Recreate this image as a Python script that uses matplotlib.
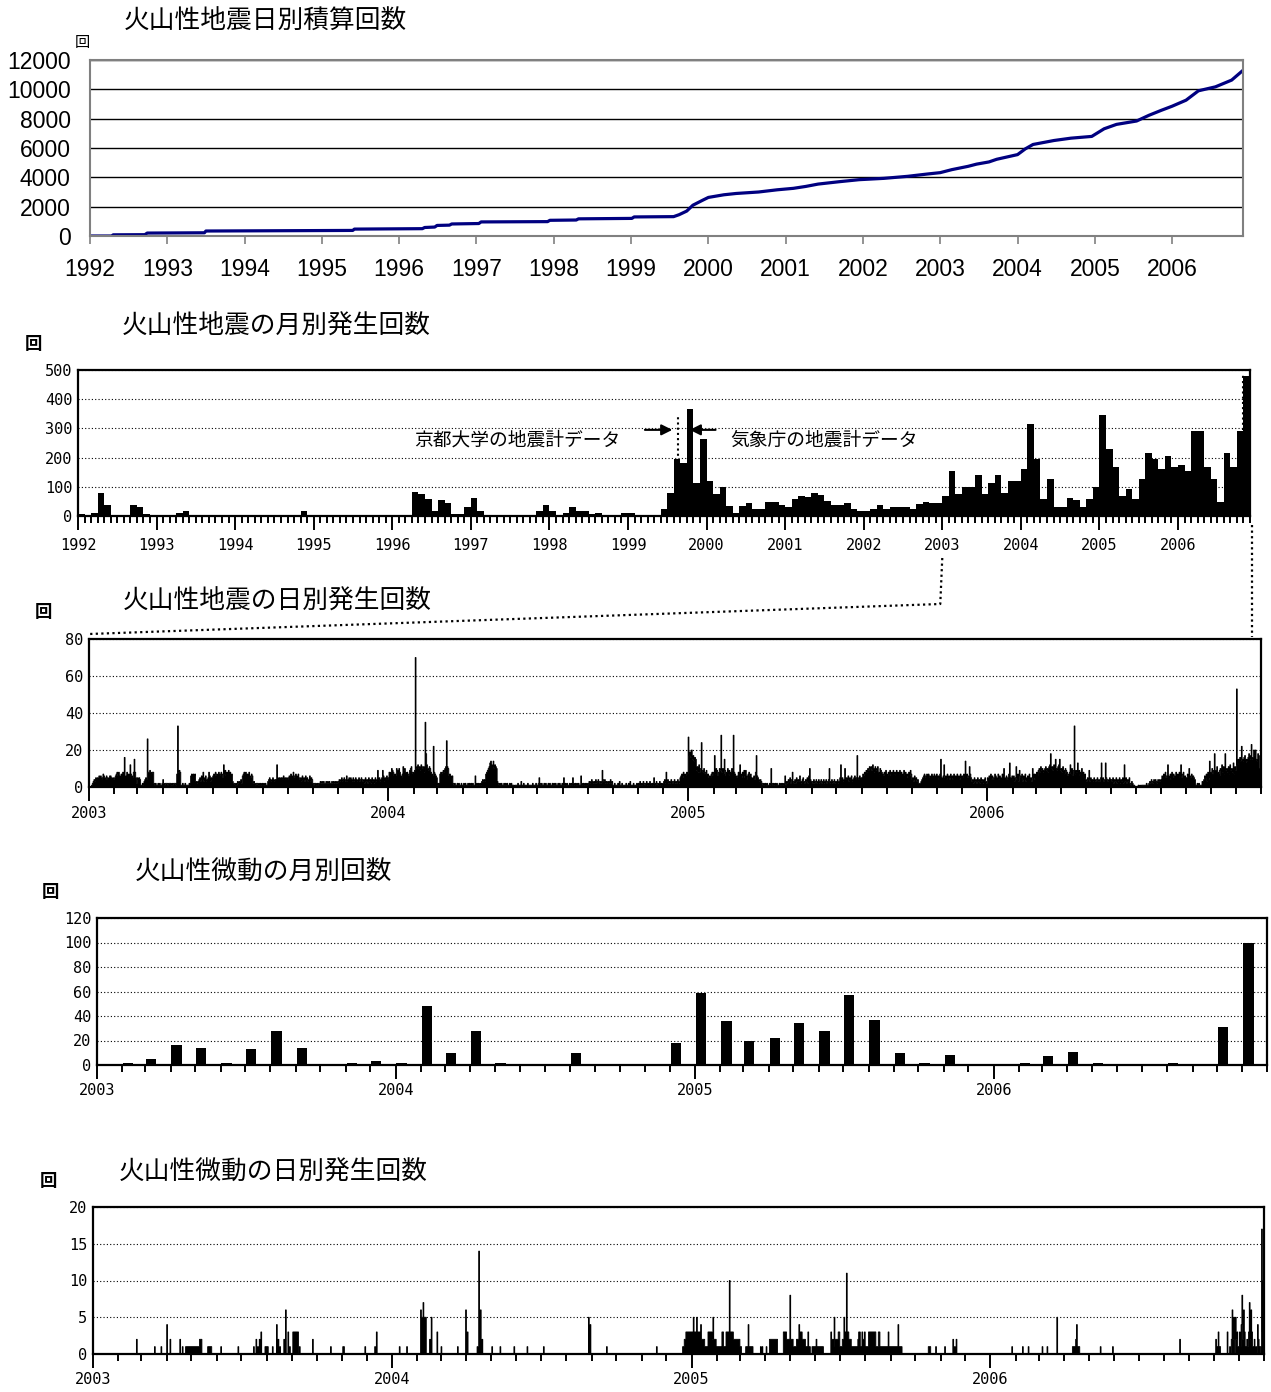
import numpy as np
import pandas as pd
import matplotlib
matplotlib.use('Agg')
import matplotlib.pyplot as plt
import matplotlib.dates as mdates
from matplotlib.lines import Line2D
from matplotlib.ticker import MultipleLocator

W, H = 1271, 1392
JP = 'Noto Sans CJK JP'
MONO = 'DejaVu Sans Mono'
plt.rcParams['font.family'] = ['Liberation Sans', JP]

# cumulative number of volcanic earthquakes (decimal year, count)
cum_year = [1992.00, 1992.28, 1992.30, 1992.71, 1992.74, 1993.48, 1993.50, 1995.40,
            1995.42, 1996.30, 1996.33, 1996.46, 1996.49, 1996.65, 1996.68, 1997.03,
            1997.06, 1997.92, 1997.95, 1998.29, 1998.32, 1999.01, 1999.04, 1999.55,
            1999.62, 1999.72, 1999.80, 1999.93, 2000.00, 2000.20, 2000.36, 2000.65,
            2000.89, 2001.10, 2001.26, 2001.42, 2001.69, 2001.95, 2002.27, 2002.58,
            2002.84, 2003.00, 2003.15, 2003.36, 2003.47, 2003.63, 2003.73, 2004.00,
            2004.10, 2004.20, 2004.47, 2004.69, 2004.96, 2005.12, 2005.28, 2005.54,
            2005.70, 2005.86, 2006.00, 2006.18, 2006.34, 2006.56, 2006.77, 2006.92]
cum_count = [0, 0, 80, 90, 200, 220, 340, 380,
             470, 500, 580, 610, 720, 740, 820, 850,
             960, 980, 1070, 1090, 1170, 1200, 1300, 1320,
             1450, 1700, 2100, 2450, 2630, 2810, 2900, 3000,
             3150, 3250, 3380, 3540, 3700, 3840, 3930, 4070,
             4230, 4320, 4525, 4750, 4900, 5050, 5230, 5550,
             5940, 6240, 6510, 6670, 6790, 7310, 7610, 7840,
             8230, 8570, 8850, 9260, 9900, 10170, 10630, 11310]

# monthly earthquake counts, Jan 1992 - Nov 2006
eq_monthly = [
    6, 0, 10, 80, 37, 0, 0, 0, 37, 30, 7, 0,             # 1992
    0, 0, 0, 11, 16, 0, 5, 0, 0, 0, 0, 0,                # 1993
    5, 5, 0, 0, 0, 5, 0, 0, 0, 0, 16, 0,                 # 1994
    0, 0, 0, 5, 5, 0, 0, 0, 0, 5, 5, 5,                  # 1995
    0, 0, 0, 82, 75, 57, 16, 55, 43, 7, 7, 30,           # 1996
    60, 16, 5, 0, 0, 0, 0, 5, 0, 0, 16, 37,              # 1997
    16, 5, 9, 30, 16, 16, 7, 11, 5, 5, 5, 9,             # 1998
    9, 2, 2, 2, 2, 23, 80, 195, 180, 368, 114, 262,      # 1999
    121, 75, 98, 34, 11, 34, 43, 23, 23, 49, 49, 39,     # 2000
    30, 57, 68, 64, 80, 71, 52, 38, 38, 43, 23, 18,      # 2001
    16, 23, 37, 23, 30, 30, 30, 23, 41, 49, 43, 43,      # 2002
    68, 153, 75, 98, 98, 139, 75, 114, 139, 80, 121, 121,     # 2003
    160, 315, 194, 57, 126, 30, 30, 62, 55, 30, 57, 100,      # 2004
    347, 230, 167, 68, 94, 57, 128, 217, 196, 160, 205, 169,  # 2005
    174, 153, 290, 290, 167, 126, 49, 217, 167, 290, 480,     # 2006
]

# daily earthquake counts, one string per month (Jan 2003 - Nov 2006),
# one base-36 digit per day
eq_daily_months = [
    '0001234354546564576546545665454', '567868657687g568676c7658f852',
    '545411213454q889878821211212112', '421222122212122217x89811211211',
    '1121676767332345364835634586354', '6768767867875c7968796867322121',
    '3233426787867686576232122121212', '12121134543454344c5454554645454',
    '565765865765754536453645346354', '2122121223232322323232232323232',
    '343453454363454543534543453454', '3425342534253425349453459635464',
    '5868a98676a97a8657b9a868769ab87', '890abcab9cbab8zica9ba876m8765',
    '120787898abpba67656212112121121', '121211212121211612121213434378',
    '9abdecbeacba3212121121212112121', '110111211131121111211111211121',
    '1252121121211212112121211212112', '1512121121215212121211621212121',
    '232343232423432329434232332423', '1121112131121111211213111211121',
    '213121321231213212152132123121', '2342834232432342324325675867687',
    'rhjgkfhegf9b8c8ao98a78967565786', '8h7a968a9s8a7f968a7968a9s876',
    '5686c7586959467867545648h654343', '21212121121a212121211212121261',
    '3243524832425343632453243526a43', '324234234234234234234a23423423',
    '34235c4534a45463546345645h54645', '5768798a9bab9ca8b9ab87a98678697',
    '687968597869587968579686758697', '4536453422234567657676567657667',
    '5647f546c564756475647564756475', '6576e6756b753425342534253424532',
    '54657465476547465476a546547d546', '4635b4739657364735647453a574',
    '7869a8b9a89ab9a8bciab9cbfa9bcf9', 'a8b97a98678c7a69x798d6978a6857',
    '4354935443543453435d4534d543454', '4352435243524352c3524352132110',
    '0001010111111211232432434324343', '46575865c657485765867586c578465',
    '576a657665411212111334657384e5', '8a79i69b879a6c8b7i9a8b7c9a8d7b9',
    '0cfdgemfeghdfegihfnfgkhkfeiha9',
]
eq_daily_peaks = {'2004-02-03': 70, '2006-11-01': 53}

# monthly volcanic tremor counts, Jan 2003 - Nov 2006
tremor_monthly = [
    0, 2, 5, 16, 14, 2, 13, 28, 14, 0, 2, 3,       # 2003
    2, 48, 10, 28, 2, 0, 0, 10, 0, 0, 0, 18,       # 2004
    59, 36, 20, 22, 34, 28, 57, 37, 10, 2, 8, 0,   # 2005
    0, 2, 7, 11, 2, 0, 0, 2, 0, 31, 100,           # 2006
]

# daily tremor counts: (first day, number of days, count per day)
tremor_daily = [
    ('2003-02-23', 1, 2), ('2003-03-17', 1, 1), ('2003-03-25', 1, 1),
    ('2003-04-01', 1, 4), ('2003-04-05', 1, 2), ('2003-04-17', 1, 2), ('2003-04-20', 1, 1),
    ('2003-04-24', 17, 1), ('2003-05-11', 3, 2), ('2003-05-21', 5, 1),
    ('2003-06-06', 1, 1), ('2003-06-27', 1, 1),
    ('2003-07-16', 1, 1), ('2003-07-19', 1, 2), ('2003-07-21', 1, 1), ('2003-07-23', 1, 2),
    ('2003-07-25', 1, 3), ('2003-07-30', 4, 1),
    ('2003-08-08', 1, 1), ('2003-08-13', 1, 4), ('2003-08-15', 1, 2), ('2003-08-17', 1, 1),
    ('2003-08-22', 1, 2), ('2003-08-24', 1, 6), ('2003-08-27', 1, 3), ('2003-08-29', 1, 1),
    ('2003-09-02', 7, 3), ('2003-09-10', 1, 1), ('2003-09-26', 1, 2),
    ('2003-10-18', 1, 1), ('2003-11-02', 2, 1), ('2003-11-29', 1, 1),
    ('2003-12-11', 1, 1), ('2003-12-13', 1, 3),
    ('2004-01-10', 1, 1), ('2004-01-19', 1, 1),
    ('2004-02-05', 1, 6), ('2004-02-06', 2, 5), ('2004-02-08', 1, 7), ('2004-02-09', 3, 5),
    ('2004-02-16', 1, 2), ('2004-02-18', 1, 5), ('2004-02-25', 1, 3), ('2004-03-01', 1, 1),
    ('2004-03-21', 1, 1), ('2004-03-31', 1, 6), ('2004-04-02', 1, 3),
    ('2004-04-14', 1, 1), ('2004-04-16', 1, 14), ('2004-04-18', 1, 6), ('2004-04-20', 1, 2),
    ('2004-05-02', 1, 1), ('2004-05-12', 1, 1), ('2004-05-29', 1, 1), ('2004-06-14', 1, 1),
    ('2004-07-04', 1, 1), ('2004-08-28', 1, 5), ('2004-08-30', 1, 4), ('2004-09-19', 1, 1),
    ('2004-11-19', 1, 1),
    ('2004-12-21', 2, 1), ('2004-12-23', 2, 2), ('2004-12-25', 9, 3),
    ('2005-01-03', 1, 5), ('2005-01-04', 3, 3), ('2005-01-07', 1, 5), ('2005-01-08', 4, 3),
    ('2005-01-12', 1, 4), ('2005-01-13', 4, 2), ('2005-01-17', 4, 1), ('2005-01-21', 5, 3),
    ('2005-01-26', 1, 2), ('2005-01-27', 1, 5), ('2005-01-28', 3, 2), ('2005-01-31', 7, 1),
    ('2005-02-07', 2, 3), ('2005-02-09', 3, 1), ('2005-02-12', 4, 3), ('2005-02-16', 1, 10),
    ('2005-02-17', 4, 3), ('2005-02-21', 8, 2), ('2005-03-01', 2, 1),
    ('2005-03-08', 3, 1), ('2005-03-11', 1, 4), ('2005-03-12', 5, 1),
    ('2005-03-26', 1, 1), ('2005-03-28', 1, 1), ('2005-04-02', 1, 1), ('2005-04-06', 10, 2),
    ('2005-04-23', 4, 3), ('2005-04-27', 4, 2), ('2005-05-01', 1, 8), ('2005-05-02', 3, 2),
    ('2005-05-06', 3, 1), ('2005-05-09', 3, 2), ('2005-05-12', 1, 4), ('2005-05-13', 3, 3),
    ('2005-05-16', 4, 2), ('2005-05-20', 3, 1), ('2005-05-23', 1, 3), ('2005-05-24', 2, 1),
    ('2005-05-28', 5, 1), ('2005-06-02', 1, 2), ('2005-06-03', 8, 1),
    ('2005-06-20', 1, 3), ('2005-06-21', 2, 2), ('2005-06-23', 1, 1), ('2005-06-24', 1, 5),
    ('2005-06-25', 4, 2), ('2005-06-29', 2, 3), ('2005-07-01', 3, 1),
    ('2005-07-04', 2, 2), ('2005-07-06', 1, 5), ('2005-07-07', 2, 3), ('2005-07-09', 1, 11),
    ('2005-07-10', 2, 3), ('2005-07-12', 3, 2), ('2005-07-15', 8, 1),
    ('2005-07-23', 1, 2), ('2005-07-24', 2, 3), ('2005-07-26', 2, 1), ('2005-07-28', 1, 3),
    ('2005-07-29', 2, 2), ('2005-07-31', 1, 3),
    ('2005-08-01', 4, 1), ('2005-08-05', 9, 3), ('2005-08-14', 3, 1), ('2005-08-17', 2, 3),
    ('2005-08-19', 10, 1), ('2005-08-29', 1, 3), ('2005-08-30', 3, 1),
    ('2005-09-02', 8, 1), ('2005-09-10', 1, 4), ('2005-09-11', 4, 1),
    ('2005-10-17', 2, 1), ('2005-10-19', 1, 1), ('2005-10-26', 1, 1), ('2005-11-06', 1, 1),
    ('2005-11-16', 1, 2), ('2005-11-18', 1, 1), ('2005-11-20', 1, 2),
    ('2006-01-27', 1, 1), ('2006-02-09', 1, 1), ('2006-02-16', 1, 1), ('2006-03-05', 1, 1),
    ('2006-03-11', 1, 1), ('2006-03-23', 1, 5),
    ('2006-04-11', 4, 1), ('2006-04-15', 1, 2), ('2006-04-16', 1, 4), ('2006-04-17', 3, 1),
    ('2006-05-15', 1, 1), ('2006-05-30', 1, 1), ('2006-08-20', 1, 2),
    ('2006-10-03', 1, 2), ('2006-10-04', 2, 1), ('2006-10-06', 1, 3), ('2006-10-07', 2, 1),
    ('2006-10-17', 1, 3), ('2006-10-20', 1, 1), ('2006-10-22', 1, 2), ('2006-10-23', 1, 6),
    ('2006-10-24', 1, 2), ('2006-10-25', 1, 5), ('2006-10-27', 1, 5), ('2006-10-28', 1, 2),
    ('2006-10-29', 1, 3), ('2006-10-30', 2, 1), ('2006-11-01', 1, 3), ('2006-11-02', 1, 1),
    ('2006-11-03', 1, 4), ('2006-11-04', 1, 8), ('2006-11-05', 1, 2), ('2006-11-06', 1, 6),
    ('2006-11-07', 1, 3), ('2006-11-08', 2, 1), ('2006-11-10', 1, 2), ('2006-11-11', 1, 1),
    ('2006-11-12', 1, 3), ('2006-11-13', 1, 7), ('2006-11-14', 1, 2), ('2006-11-15', 1, 6),
    ('2006-11-16', 1, 3), ('2006-11-17', 2, 1), ('2006-11-19', 1, 2), ('2006-11-21', 1, 1),
    ('2006-11-23', 1, 4), ('2006-11-24', 1, 2), ('2006-11-25', 2, 1), ('2006-11-28', 1, 17),
    ('2006-11-29', 1, 3), ('2006-11-30', 1, 10),
]

# ---- expand the daily series onto a full calendar ----
days = pd.date_range('2003-01-01', '2006-11-30', freq='D')
eq_daily = pd.Series(0, index=days)
for start, s in zip(pd.date_range('2003-01-01', periods=len(eq_daily_months), freq='MS'),
                    eq_daily_months):
    for i, c in enumerate(s):
        eq_daily[start + pd.Timedelta(days=i)] = int(c, 36)
for d, v in eq_daily_peaks.items():
    eq_daily[pd.Timestamp(d)] = v

tremor = pd.Series(0, index=days)
for d, n, v in tremor_daily:
    tremor[pd.date_range(d, periods=n, freq='D')] = v

day_edges = mdates.date2num(pd.date_range('2003-01-01', '2006-12-01', freq='D'))
x_lo, x_hi = day_edges[0], day_edges[-1]

fig = plt.figure(figsize=(W / 100, H / 100), dpi=100)


def box(l, t, r, b):
    return fig.add_axes([l / W, 1 - b / H, (r - l) / W, (b - t) / H])


def ftext(x, y, s, **kw):
    fig.text(x / W, 1 - y / H, s, **kw)


def dotted_grid(ax, pad=3):
    ax.grid(axis='y', color='black', linestyle=(0, (1, 2)), linewidth=0.8)
    ax.set_axisbelow(True)
    for sp in ax.spines.values():
        sp.set_color('black')
        sp.set_linewidth(1.6)
    ax.tick_params(axis='y', length=0, pad=4)
    ax.tick_params(axis='x', which='major', length=10, width=1.4, pad=pad)
    ax.tick_params(axis='x', which='minor', length=5, width=1.4)
    for lab in ax.get_xticklabels() + ax.get_yticklabels():
        lab.set_fontfamily(MONO)
        lab.set_fontsize(11)


def daily_axis(ax):
    ax.set_xlim(x_lo, x_hi)
    ax.xaxis.set_major_locator(mdates.YearLocator())
    ax.xaxis.set_major_formatter(mdates.DateFormatter('%Y'))
    ax.xaxis.set_minor_locator(mdates.MonthLocator())


TITLE = dict(fontsize=18.5, family=JP, va='center')
UNIT = dict(fontsize=12.5, family=JP, weight='bold', va='center', ha='center')

# ---- 1: cumulative earthquakes ----
ax1 = box(90, 60, 1243, 236)
ax1.plot(cum_year, cum_count, color='#000080', lw=2.3)
ax1.set_xlim(1992, 2006 + 11 / 12)
ax1.set_ylim(0, 12000)
ax1.set_yticks(range(0, 12001, 2000))
ax1.set_xticks(range(1992, 2007))
ax1.grid(axis='y', color='black', lw=1)
for sp in ax1.spines.values():
    sp.set_color('#808080')
    sp.set_linewidth(1.5)
ax1.tick_params(axis='y', length=0, pad=14, labelsize=16.5)
ax1.tick_params(axis='x', length=6, color='#808080', width=1.2, pad=10, labelsize=16.5)
ftext(124, 22, '火山性地震日別積算回数', **TITLE)
ftext(82, 43, '回', fontsize=11, family=JP, va='center', ha='center')

# ---- 2: monthly earthquakes ----
ax2 = box(78, 370, 1250, 516)
m_edges = 1992 + np.arange(len(eq_monthly) + 1) / 12
ax2.stairs(eq_monthly, m_edges, fill=True, color='black')
ax2.set_xlim(m_edges[0], m_edges[-1])
ax2.set_ylim(0, 500)
ax2.set_yticks(range(0, 501, 100))
ax2.set_xticks(range(1992, 2007))
ax2.xaxis.set_minor_locator(MultipleLocator(1 / 12))
dotted_grid(ax2, pad=6)
ax2.annotate('', xy=(1999.60, 295), xytext=(1999.18, 295),
             arrowprops=dict(arrowstyle='-|>', color='black', lw=1.5, mutation_scale=16))
ax2.annotate('', xy=(1999.75, 295), xytext=(2000.15, 295),
             arrowprops=dict(arrowstyle='-|>', color='black', lw=1.5, mutation_scale=16))
ax2.plot([1999.635, 1999.635], [190, 345], color='black', lw=1.5, linestyle=(0, (1, 1.5)))
ax2.plot([2006.83, 2006.83], [295, 490], color='black', lw=1.5, linestyle=(0, (1, 1.5)))
ax2.text(1997.59, 260, '京都大学の地震計データ', family=JP, fontsize=13.5, ha='center', va='center')
ax2.text(2000.30, 260, '気象庁の地震計データ', family=JP, fontsize=13.5, ha='left', va='center')
ftext(122, 327, '火山性地震の月別発生回数', **TITLE)
ftext(33, 344, '回', **UNIT)

# ---- 3: daily earthquakes ----
ax3 = box(89, 639, 1261, 787)
ax3.stairs(eq_daily.values, day_edges, fill=True, facecolor='black',
           edgecolor='black', linewidth=0.6)
daily_axis(ax3)
ax3.set_ylim(0, 80)
ax3.set_yticks(range(0, 81, 20))
dotted_grid(ax3, pad=4)
ftext(123, 602, '火山性地震の日別発生回数', **TITLE)
ftext(43, 612, '回', **UNIT)

# ---- 4: monthly tremor ----
ax4 = box(97, 918, 1267, 1065)
t_months = mdates.date2num(pd.date_range('2003-01-01', periods=len(tremor_monthly), freq='MS'))
ax4.bar(t_months + 1, tremor_monthly, width=12.5, align='edge', color='black', linewidth=0)
daily_axis(ax4)
ax4.set_ylim(0, 120)
ax4.set_yticks(range(0, 121, 20))
dotted_grid(ax4)
ftext(135, 873, '火山性微動の月別回数', **TITLE)
ftext(50, 892, '回', **UNIT)

# ---- 5: daily tremor ----
ax5 = box(93, 1207, 1264, 1354)
ax5.stairs(tremor.values, day_edges, fill=True, facecolor='black',
           edgecolor='black', linewidth=0.6)
daily_axis(ax5)
ax5.set_ylim(0, 20)
ax5.set_yticks(range(0, 21, 5))
dotted_grid(ax5)
ftext(119, 1173, '火山性微動の日別発生回数', **TITLE)
ftext(48, 1181, '回', **UNIT)

# ---- dotted connectors from the monthly chart to the daily zoom ----
x03 = ax2.transData.transform((2003.0, 0))[0]
x_end = ax2.transData.transform((m_edges[-1], 0))[0]
left3 = ax3.transAxes.transform((0, 1))
conn = dict(color='black', lw=1.6, linestyle=(0, (1, 1.5)), transform=fig.transFigure)
fig.add_artist(Line2D([x03 / W, (x03 - 2) / W, left3[0] / W],
                      [(H - 558) / H, (H - 604) / H, (left3[1] + 5) / H], **conn))
fig.add_artist(Line2D([(x_end + 2) / W, (x_end + 2) / W],
                      [(H - 525) / H, (H - 637) / H], **conn))

fig.savefig('out.png', dpi=100)
